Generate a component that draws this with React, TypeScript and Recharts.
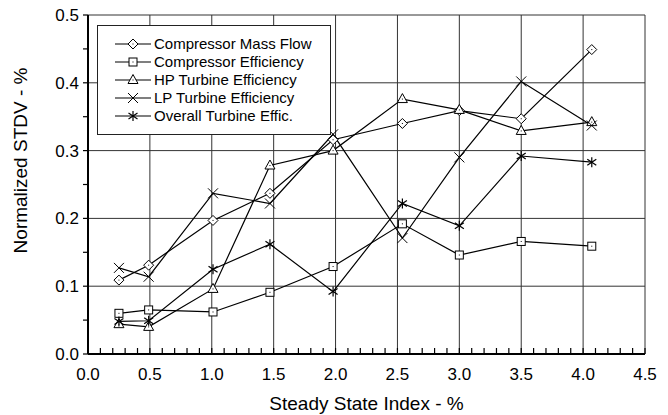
import { CartesianGrid, Label, Legend, Line, LineChart, XAxis, YAxis } from "recharts";

// steady state index (%), shared by all series
const SSI = [0.25, 0.49, 1.01, 1.47, 1.98, 2.54, 3.0, 3.5, 4.07];

const compMassFlow = [0.109, 0.131, 0.197, 0.237, 0.316, 0.34, 0.359, 0.347, 0.449];
const compEff = [0.06, 0.065, 0.062, 0.091, 0.129, 0.192, 0.146, 0.166, 0.159];
const hpTurbEff = [0.044, 0.04, 0.096, 0.278, 0.3, 0.376, 0.36, 0.329, 0.342];
const lpTurbEff = [0.127, 0.114, 0.237, 0.222, 0.324, 0.171, 0.29, 0.402, 0.337];
const overallTurbEff = [0.048, 0.049, 0.125, 0.162, 0.092, 0.222, 0.189, 0.292, 0.283];

const X_MAJOR = [0, 0.5, 1, 1.5, 2, 2.5, 3, 3.5, 4, 4.5];
const Y_MAJOR = [0, 0.1, 0.2, 0.3, 0.4, 0.5];

const SERIES = [
  { key: "cmf", name: "Compressor Mass Flow", shape: "diamond", values: compMassFlow },
  { key: "ce", name: "Compressor Efficiency", shape: "square", values: compEff },
  { key: "hp", name: "HP Turbine Efficiency", shape: "triangle", values: hpTurbEff },
  { key: "lp", name: "LP Turbine Efficiency", shape: "cross", values: lpTurbEff },
  { key: "ot", name: "Overall Turbine Effic.", shape: "star", values: overallTurbEff },
];

const data = SSI.map((x, i) => {
  const row: any = { x };
  SERIES.forEach((s) => (row[s.key] = s.values[i]));
  return row;
});

// minor ticks
const xTicks: number[] = [];
for (let i = 0; i <= 45; i++) xTicks.push(i / 10);
const yTicks: number[] = [];
for (let i = 0; i <= 10; i++) yTicks.push((i * 5) / 100);

const isMajor = (v: number, step: number) => Math.abs(v / step - Math.round(v / step)) < 1e-6;

const FONT = "'Liberation Sans', Arial, sans-serif";

function Marker({ shape, cx, cy }: { shape: string; cx: number; cy: number }) {
  const st = { stroke: "#000", strokeWidth: 1, fill: "#fff" };
  const dotC = <rect x={cx - 0.5} y={cy - 0.5} width={1} height={1} fill="#000" />;
  if (shape === "diamond")
    return (
      <g>
        <polygon points={`${cx},${cy - 5} ${cx + 5},${cy} ${cx},${cy + 5} ${cx - 5},${cy}`} {...st} />
        {dotC}
      </g>
    );
  if (shape === "square")
    return (
      <g>
        <rect x={cx - 4} y={cy - 4} width={8} height={8} {...st} />
        {dotC}
      </g>
    );
  if (shape === "triangle")
    return (
      <g>
        <polygon points={`${cx},${cy - 5.5} ${cx + 5},${cy + 3.5} ${cx - 5},${cy + 3.5}`} {...st} />
        {dotC}
      </g>
    );
  if (shape === "cross")
    return (
      <g stroke="#000" strokeWidth={1}>
        <line x1={cx - 5} y1={cy - 5} x2={cx + 5} y2={cy + 5} />
        <line x1={cx - 5} y1={cy + 5} x2={cx + 5} y2={cy - 5} />
      </g>
    );
  return (
    <g stroke="#000" strokeWidth={1.2}>
      <line x1={cx} y1={cy - 5} x2={cx} y2={cy + 5} />
      <line x1={cx - 4.5} y1={cy - 3} x2={cx + 4.5} y2={cy + 3} />
      <line x1={cx - 4.5} y1={cy + 3} x2={cx + 4.5} y2={cy - 3} />
    </g>
  );
}

function BottomTick(props: any) {
  const { x, y, payload } = props;
  const v = payload.value;
  const major = isMajor(v, 0.5);
  return (
    <g>
      <line x1={x} y1={y} x2={x} y2={y - 6} stroke="#000" strokeWidth={1.2} />
      {major && (
        <text x={x} y={y + 26} textAnchor="middle" fontSize={17} fontFamily={FONT} fill="#000">
          {v.toFixed(1)}
        </text>
      )}
    </g>
  );
}

function LegendBox() {
  return (
    <svg width={234} height={110} style={{ display: "block" }}>
      <rect x={0.5} y={0.5} width={233} height={109} fill="#fff" stroke="#222" strokeWidth={1} />
      {SERIES.map((s, i) => {
        const cy = 19 + i * 18;
        return (
          <g key={s.key}>
            <line x1={18} y1={cy} x2={54} y2={cy} stroke="#000" strokeWidth={1.2} />
            <Marker shape={s.shape} cx={36} cy={cy} />
            <text x={57} y={cy + 5} fontSize={15} fontFamily={FONT} fill="#000">
              {s.name}
            </text>
          </g>
        );
      })}
    </svg>
  );
}

export default function App() {
  return (
    <div style={{ marginTop: -8 }}>
      <LineChart width={652} height={415} data={data} margin={{ top: 15, right: 15, bottom: 5, left: 0 }}>
        <CartesianGrid
          stroke="#333"
          strokeWidth={1}
          horizontalValues={Y_MAJOR}
          verticalValues={X_MAJOR}
        />
        <XAxis
          type="number"
          dataKey="x"
          domain={[0, 4.5]}
          ticks={xTicks}
          interval={0}
          height={56}
          tickSize={0}
          tickMargin={0}
          tick={<BottomTick />}
          axisLine={{ stroke: "#000", strokeWidth: 2 }}
        >
          <Label
            value="Steady State Index - %"
            position="insideBottom"
            offset={0}
            style={{ fontSize: 19, fontFamily: FONT, fill: "#000" }}
          />
        </XAxis>
        <XAxis
          xAxisId="top"
          orientation="top"
          type="number"
          dataKey="x"
          domain={[0, 4.5]}
          ticks={xTicks}
          interval={0}
          height={0}
          tickSize={3}
          tickFormatter={() => ""}
          tickLine={{ stroke: "#000" }}
          axisLine={{ stroke: "#000", strokeWidth: 2 }}
        />
        <YAxis
          type="number"
          domain={[0, 0.5]}
          ticks={yTicks}
          interval={0}
          width={80}
          tickSize={5}
          tickMargin={4}
          tickFormatter={(v: number) => (isMajor(v, 0.1) ? v.toFixed(1) : "")}
          tick={{ fontSize: 17, fontFamily: FONT, fill: "#000" }}
          tickLine={{ stroke: "#000", strokeWidth: 1.2 }}
          axisLine={{ stroke: "#000", strokeWidth: 2 }}
        >
          <Label
            content={(p: any) => {
              const vb = p.viewBox || { x: 0, y: 15, height: 339 };
              const tx = vb.x + 19;
              const ty = vb.y + vb.height / 2 - 24;
              return (
                <text
                  x={tx}
                  y={ty}
                  transform={`rotate(-90, ${tx}, ${ty})`}
                  textAnchor="middle"
                  fontSize={19}
                  fontFamily={FONT}
                  fill="#000"
                >
                  Normalized STDV - %
                </text>
              );
            }}
          />
        </YAxis>
        <YAxis
          yAxisId="right"
          orientation="right"
          type="number"
          domain={[0, 0.5]}
          ticks={yTicks}
          interval={0}
          width={0}
          tickSize={4}
          tickFormatter={() => ""}
          tickLine={{ stroke: "#000" }}
          axisLine={{ stroke: "#000", strokeWidth: 2 }}
        />
        <Line
          xAxisId="top"
          yAxisId="right"
          dataKey="cmf"
          stroke="none"
          dot={false}
          activeDot={false}
          legendType="none"
          isAnimationActive={false}
        />
        {SERIES.map((s) => (
          <Line
            key={s.key}
            dataKey={s.key}
            name={s.name}
            stroke="#000"
            strokeWidth={1.2}
            isAnimationActive={false}
            activeDot={false}
            dot={(p: any) => <Marker key={`${s.key}-${p.index}`} shape={s.shape} cx={p.cx} cy={p.cy} />}
          />
        ))}
        <Legend
          layout="vertical"
          align="center"
          verticalAlign="middle"
          content={() => <LegendBox />}
          wrapperStyle={{ position: "absolute", left: 89, top: 25, width: 234, height: 110 }}
        />
      </LineChart>
    </div>
  );
}
